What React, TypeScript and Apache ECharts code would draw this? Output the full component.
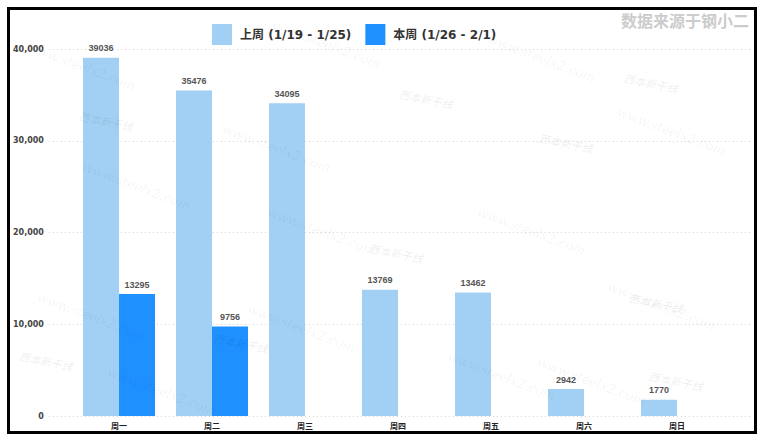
import React, { useEffect, useRef } from "react";
import * as echarts from "echarts";

const categories = ["周一", "周二", "周三", "周四", "周五", "周六", "周日"];
const lastWeek = [39036, 35476, 34095, 13769, 13462, 2942, 1770];
const thisWeek: (number | null)[] = [13295, 9756, null, null, null, null, null];
const seriesNames = ["上周 (1/19 - 1/25)", "本周 (1/26 - 2/1)"];
const yMin = 0;
const yMax = 40000;
const yInterval = 10000;
const sourceText = "数据来源于钢小二";
const watermarkText = "www.steelx2.com";
const logoText = "西本新干线";

// decorative watermark placements (chart coordinates)
const wmSpots = [
  [20, 30], [265, 8], [480, 22], [215, 112], [610, 95], [75, 150],
  [260, 195], [470, 195], [30, 280], [240, 292], [600, 270], [440, 340], [530, 345], [100, 355],
];
const logoSpots = [
  [615, 62], [390, 78], [530, 122], [70, 100], [620, 282], [205, 322], [640, 360], [360, 232], [10, 340],
];

export default function App() {
  const ref = useRef<HTMLDivElement>(null);
  useEffect(() => {
    if (!ref.current) return;
    const chart = echarts.init(ref.current, null, { renderer: "svg" });
    const graphics: any[] = [];
    wmSpots.forEach(([x, y]) => {
      graphics.push({
        type: "text",
        x,
        y,
        rotation: -0.36,
        z: 100,
        silent: true,
        style: {
          text: watermarkText,
          fill: "rgba(0,0,0,0.06)",
          font: "italic 13px 'DejaVu Serif'",
        },
      });
    });
    logoSpots.forEach(([x, y]) => {
      graphics.push({
        type: "text",
        x,
        y,
        rotation: -0.2,
        z: 100,
        silent: true,
        style: {
          text: logoText,
          fill: "rgba(0,0,0,0.06)",
          font: "italic bold 11px 'Noto Sans CJK SC'",
        },
      });
    });
    const option: any = {
      animation: false,
      backgroundColor: "#fff",
      title: {
        text: sourceText,
        right: 5,
        top: 2,
        padding: 0,
        textStyle: {
          fontSize: 16,
          fontWeight: "bold",
          color: "#cccccc",
          fontFamily: "'Noto Sans CJK SC'",
        },
      },
      legend: {
        left: 202,
        top: 14,
        padding: 0,
        itemWidth: 20,
        itemHeight: 21,
        itemGap: 14,
        icon: "rect",
        data: seriesNames,
        textStyle: {
          fontSize: 12,
          fontWeight: "bold",
          color: "#333",
          fontFamily: "'DejaVu Sans', 'Noto Sans CJK SC'",
          padding: [0, 0, 0, 3],
        },
      },
      graphic: graphics,
      grid: [
        { left: 35, right: 3, top: 39, bottom: 15 },
        { left: 62.5, width: 651, top: 39, bottom: 15 },
      ],
      xAxis: [
        { gridIndex: 0, type: "category", data: categories, show: false },
        {
          gridIndex: 1,
          type: "category",
          data: categories,
          axisLine: { show: false },
          axisTick: { show: false },
          axisLabel: {
            fontSize: 8,
            fontWeight: "bold",
            color: "#222",
            margin: 5,
            fontFamily: "'Noto Sans CJK SC'",
          },
        },
      ],
      yAxis: [
        {
          gridIndex: 0,
          type: "value",
          min: yMin,
          max: yMax,
          interval: yInterval,
          axisLine: { show: false },
          axisTick: { show: false },
          axisLabel: {
            fontSize: 8,
            fontWeight: "bold",
            color: "#444",
            margin: 5,
            fontFamily: "'DejaVu Sans'",
            formatter: (v: number) => v.toLocaleString("en-US"),
          },
          splitLine: { show: true, lineStyle: { type: [1, 3], color: "#d0d0d0", width: 1 } },
        },
        {
          gridIndex: 1,
          type: "value",
          min: yMin,
          max: yMax,
          interval: yInterval,
          show: false,
          splitLine: { show: false },
        },
      ],
      series: [
        {
          name: seriesNames[0],
          type: "bar",
          xAxisIndex: 1,
          yAxisIndex: 1,
          data: lastWeek,
          barWidth: 36,
          barGap: "0%",
          itemStyle: { color: "#A2CFF4" },
          label: {
            show: true,
            position: "top",
            distance: 5,
            fontSize: 9,
            fontWeight: "bold",
            color: "#555",
            fontFamily: "'Liberation Sans'",
          },
        },
        {
          name: seriesNames[1],
          type: "bar",
          xAxisIndex: 1,
          yAxisIndex: 1,
          data: thisWeek,
          barWidth: 36,
          barGap: "0%",
          itemStyle: { color: "#1E90FF" },
          label: {
            show: true,
            position: "top",
            distance: 5,
            fontSize: 9,
            fontWeight: "bold",
            color: "#555",
            fontFamily: "'Liberation Sans'",
          },
        },
      ],
    };
    chart.setOption(option);
    return () => chart.dispose();
  }, []);
  return (
    <div
      style={{
        position: "fixed",
        left: 7,
        top: 7,
        width: 750,
        height: 427,
        border: "3px solid #000",
        boxSizing: "border-box",
        background: "#fff",
      }}
    >
      <div ref={ref} style={{ width: 744, height: 421 }} />
    </div>
  );
}
